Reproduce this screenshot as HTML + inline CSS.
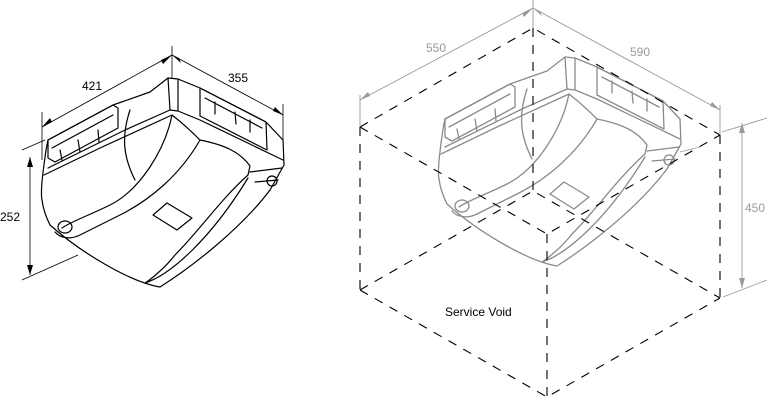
<!DOCTYPE html>
<html><head><meta charset="utf-8"><style>
html,body{margin:0;padding:0;background:#fff;width:767px;height:400px;overflow:hidden}
text{font-family:"Liberation Sans",sans-serif}
</style></head><body>
<svg width="767" height="400" viewBox="0 0 767 400" xmlns="http://www.w3.org/2000/svg">
<defs>
<g id="unit" fill="none" stroke-linejoin="round" stroke-linecap="round">
  <path d="M42,200 C40,190 44,165 46,150 L48,140 L113,105 L150,92 L168,78 L178,79 L200,88 L266,122 L283,140 L284,165 L270,190 C240,230 190,268 160,287 C130,282 80,252 50,225 C45,215 43,208 42,200 Z"/>
  <path d="M48,140 L113,105 L118,108 L118,128 L55,162 L48,158 Z"/>
  <path d="M52,148 L113,115 M60,150 L62,160 M78,140 L80,152 M98,130 L99,142"/>
  <path d="M200,88 L266,122 L267,150 L200,116 Z M205,98 L262,128 M215,102 L215,114 M235,112 L236,124 M250,120 L250,132"/>
  <path d="M168,78 L170,110 L178,111 L178,79 M170,110 L125,130 L48,168 M178,111 L200,120 L283,160"/>
  <path d="M44,175 L100,148 L172,115 C165,150 140,190 110,205 C90,215 70,222 62,228"/>
  <path d="M172,115 C185,125 195,135 200,140 C225,145 240,152 250,166 L248,175 C220,200 200,230 175,255 C165,268 150,280 145,283"/>
  <path d="M200,140 C180,175 150,200 120,215 C100,225 90,230 80,235 C70,240 60,238 55,232"/>
  <path d="M250,172 L282,168 M255,182 L278,180"/>
  <path d="M130,110 C120,140 125,160 135,180"/>
  <ellipse cx="65" cy="227" rx="7" ry="6"/>
  <circle cx="272" cy="181" r="5"/>
  <path d="M153,215 L167,203 L192,218 L177,230 Z"/>
  <path d="M145,283 C170,275 210,240 248,178"/>
</g>
</defs>

<!-- left unit -->
<use href="#unit" stroke="#000" stroke-width="1.2"/>
<!-- left dims -->
<g stroke="#000" stroke-width="0.8" fill="none">
  <path d="M172,46 L172,78"/>
  <path d="M42,127 L172,55 L283,115"/>
  <path d="M42,112 L42,160 M283,104 L283,140"/>
  <path d="M30,157 L30,275"/>
  <path d="M22,150 L45,140 M22,280 L78,255"/>
</g>
<g fill="#000">
  <path d="M42,127 L50,118 L52,122 Z M172,55 L163,64 L161,60 Z M172,55 L181,63 L179,58 Z M283,115 L273,111 L275,107 Z"/>
  <path d="M30,157 L27,167 L33,167 Z M30,275 L27,265 L33,265 Z"/>
</g>
<text x="82" y="90" font-size="12" fill="#000">421</text>
<text x="228" y="82" font-size="12" fill="#000">355</text>
<text x="0" y="221" font-size="12" fill="#000">252</text>

<!-- right unit (grey) -->
<g transform="translate(397,-21)">
<use href="#unit" stroke="#8a8a8a" stroke-width="1.3"/>
</g>

<!-- service void box -->
<g stroke="#000" stroke-width="1.1" stroke-dasharray="9,8" fill="none">
  <path d="M360,127 L533,28 L720,135"/>
  <path d="M360,127 L547,234 L720,135"/>
  <path d="M533,28 L533,191"/>
  <path d="M360,127 L360,290 M720,135 L720,298 M547,234 L547,397"/>
  <path d="M360,290 L547,397 L720,298"/>
  <path d="M360,290 L533,191 L720,298"/>
</g>

<!-- right dims -->
<g stroke="#9a9a9a" stroke-width="0.9" fill="none">
  <path d="M533,0 L533,28"/>
  <path d="M360,100 L533,8 L720,110"/>
  <path d="M360,95 L360,127 M720,105 L720,135"/>
  <path d="M742,123 L742,288"/>
  <path d="M722,132 L767,118 M723,297 L767,280"/>
  <path d="M680,152 L700,147"/>
</g>
<g fill="#9a9a9a">
  <path d="M360,100 L368,92 L370,96 Z M533,8 L524,17 L522,13 Z M533,8 L542,16 L540,11 Z M720,110 L710,106 L712,102 Z"/>
  <path d="M742,123 L739,133 L745,133 Z M742,288 L739,278 L745,278 Z"/>
</g>
<text x="426" y="52" font-size="12" fill="#9a9a9a">550</text>
<text x="630" y="56" font-size="12" fill="#9a9a9a">590</text>
<text x="745" y="212" font-size="12" fill="#9a9a9a">450</text>
<text x="445" y="316" font-size="12" fill="#000">Service Void</text>
</svg>
</body></html>
